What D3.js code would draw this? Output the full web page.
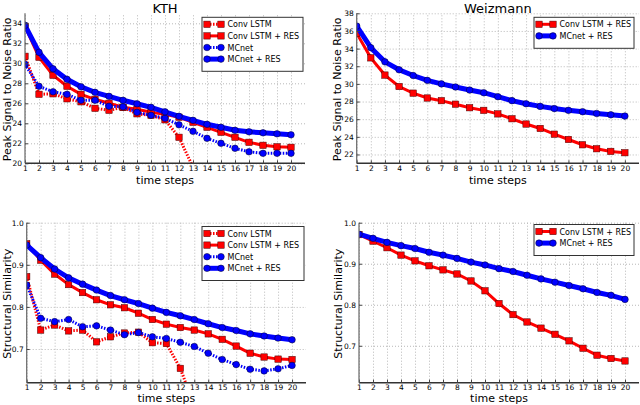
<!DOCTYPE html>
<html>
<head>
<meta charset="utf-8">
<script src="https://cdn.jsdelivr.net/npm/d3@7"></script>
<style>
body { margin: 0; background: #fff; }
svg { display: block; }
text { font-family: "DejaVu Sans", sans-serif; fill: #000; }
</style>
</head>
<body>
<svg id="chart" width="640" height="405"></svg>
<script>
// time steps on the x axis
let steps = [1, 2, 3, 4, 5, 6, 7, 8, 9, 10, 11, 12, 13, 14, 15, 16, 17, 18, 19, 20]

// KTH - PSNR
let kthPsnrConv = [30.7, 26.9, 26.95, 26.45, 26.15, 25.5, 25.3, 25.6, 24.95, 24.8, 24.35, 22.6, 19.6]
let kthPsnrConvRes = [33.7, 30.6, 28.8, 27.7, 26.9, 26.4, 26.0, 25.6, 25.4, 25.1, 24.9, 24.6, 24.1, 23.6, 23.1, 22.6, 22.1, 21.8, 21.65, 21.6]
let kthPsnrMc = [29.9, 27.7, 27.15, 26.9, 26.3, 26.3, 25.7, 25.65, 25.1, 24.8, 24.5, 23.85, 23.2, 22.5, 22.0, 21.5, 21.15, 21.0, 21.0, 21.0]
let kthPsnrMcRes = [33.8, 31.1, 29.45, 28.4, 27.65, 27.1, 26.7, 26.3, 25.95, 25.6, 25.15, 24.7, 24.3, 23.9, 23.6, 23.3, 23.15, 23.05, 22.95, 22.85]

// Weizmann - PSNR
let weizPsnrConvRes = [35.75, 32.95, 31.0, 29.7, 28.95, 28.4, 28.1, 27.7, 27.3, 27.0, 26.6, 26.05, 25.45, 24.95, 24.3, 23.7, 23.1, 22.65, 22.35, 22.2]
let weizPsnrMcRes = [36.55, 34.1, 32.5, 31.6, 30.95, 30.4, 30.0, 29.65, 29.3, 29.0, 28.55, 28.1, 27.75, 27.45, 27.2, 27.0, 26.85, 26.65, 26.5, 26.35]

// KTH - SSIM
let kthSsimConv = [0.872, 0.745, 0.757, 0.743, 0.745, 0.717, 0.729, 0.738, 0.740, 0.715, 0.713, 0.654, 0.565]
let kthSsimConvRes = [0.950, 0.911, 0.878, 0.853, 0.834, 0.817, 0.805, 0.798, 0.785, 0.770, 0.759, 0.751, 0.745, 0.736, 0.723, 0.707, 0.690, 0.681, 0.676, 0.675]
let kthSsimMc = [0.852, 0.773, 0.765, 0.770, 0.753, 0.755, 0.745, 0.734, 0.739, 0.729, 0.725, 0.716, 0.706, 0.690, 0.675, 0.663, 0.652, 0.648, 0.653, 0.661]
let kthSsimMcRes = [0.947, 0.917, 0.890, 0.869, 0.854, 0.840, 0.827, 0.817, 0.808, 0.797, 0.787, 0.779, 0.770, 0.760, 0.751, 0.744, 0.736, 0.731, 0.726, 0.722]

// Weizmann - SSIM
let weizSsimConvRes = [0.971, 0.955, 0.939, 0.921, 0.907, 0.895, 0.885, 0.875, 0.858, 0.834, 0.803, 0.776, 0.758, 0.743, 0.728, 0.712, 0.694, 0.677, 0.669, 0.663]
let weizSsimMcRes = [0.972, 0.962, 0.952, 0.944, 0.937, 0.928, 0.921, 0.913, 0.904, 0.897, 0.888, 0.881, 0.872, 0.863, 0.855, 0.847, 0.839, 0.830, 0.823, 0.813]

// tick values
let psnrTicksKth = [20, 22, 24, 26, 28, 30, 32, 34]
let psnrTicksWeiz = [22, 24, 26, 28, 30, 32, 34, 36, 38]
let ssimTicks = [0.7, 0.8, 0.9, 1.0]

let seriesNames = ["Conv LSTM", "Conv LSTM + RES", "MCnet", "MCnet + RES"]

// line styles per series name
let styles = {
    "Conv LSTM": { color: "#ff0000", width: 3, dash: "1.5,1.5", marker: "square" },
    "Conv LSTM + RES": { color: "#ff0000", width: 3, dash: null, marker: "square" },
    "MCnet": { color: "#0000ff", width: 3, dash: "1.5,1.5", marker: "circle" },
    "MCnet + RES": { color: "#0000ff", width: 5, dash: null, marker: "circle" }
}

let svg = d3.select("#chart")

function drawPanel(p, idx) {
    let x = d3.scaleLinear().domain([1, 21]).range([p.left, p.right])
    let y = d3.scaleLinear().domain(p.yDomain).range([p.bottom, p.top])
    let g = svg.append("g")

    let clipId = "clip" + idx
    svg.append("clipPath").attr("id", clipId)
        .append("rect")
        .attr("x", p.left).attr("y", p.top)
        .attr("width", p.right - p.left).attr("height", p.bottom - p.top)

    // dotted grid
    g.append("g")
        .attr("transform", `translate(0,${p.bottom})`)
        .call(d3.axisBottom(x).tickValues(steps).tickSize(-(p.bottom - p.top)).tickFormat(""))
        .call(a => a.select(".domain").remove())
        .selectAll("line").attr("stroke", "#b8b8b8").attr("stroke-dasharray", "1,2")
    g.append("g")
        .attr("transform", `translate(${p.left},0)`)
        .call(d3.axisLeft(y).tickValues(p.yTicks).tickSize(-(p.right - p.left)).tickFormat(""))
        .call(a => a.select(".domain").remove())
        .selectAll("line").attr("stroke", "#b8b8b8").attr("stroke-dasharray", "1,2")

    // series
    let plot = g.append("g").attr("clip-path", `url(#${clipId})`)
    p.series.forEach(s => {
        let st = styles[s.name]
        let pts = s.values.map((v, i) => [steps[i], v])
        let line = d3.line().x(d => x(d[0])).y(d => y(d[1]))
        plot.append("path")
            .attr("d", line(pts))
            .attr("fill", "none")
            .attr("stroke", st.color)
            .attr("stroke-width", st.width)
            .attr("stroke-dasharray", st.dash)
        drawMarkers(plot, pts.map(d => [x(d[0]), y(d[1])]), st)
    })

    // axes
    let axisX = d3.axisBottom(x).tickValues(steps).tickSize(-3).tickPadding(2)
    let gx = g.append("g").attr("transform", `translate(0,${p.bottom})`).call(axisX)
    gx.select(".domain").attr("stroke", "#333").attr("stroke-width", 1.6)
        .attr("d", `M${p.left},0H${p.right}`)
    gx.selectAll("text").attr("font-size", 7.5).attr("font-family", "DejaVu Sans").attr("fill", "#222")
    gx.selectAll(".tick line").attr("stroke", "#444")

    let axisY = d3.axisLeft(y).tickValues(p.yTicks).tickSize(-3).tickPadding(3)
        .tickFormat(p.yFormat)
    let gy = g.append("g").attr("transform", `translate(${p.left},0)`).call(axisY)
    gy.select(".domain").attr("stroke", "#666").attr("stroke-width", 1.2)
        .attr("d", `M0,${p.top}V${p.bottom}`)
    gy.selectAll("text").attr("font-size", 7.5).attr("font-family", "DejaVu Sans").attr("fill", "#222")
    gy.selectAll(".tick line").attr("stroke", "#444")

    // labels
    if (p.title) {
        g.append("text").attr("x", (p.left + p.right) / 2).attr("y", 12.5)
            .attr("text-anchor", "middle").attr("font-size", 13).text(p.title)
    }
    g.append("text").attr("x", (p.left + p.right) / 2).attr("y", p.xLabelY)
        .attr("text-anchor", "middle").attr("font-size", 11).text("time steps")
    g.append("text")
        .attr("transform", `translate(${p.yLabelX},${(p.top + p.bottom) / 2 + 1}) rotate(-90)`)
        .attr("text-anchor", "middle").attr("font-size", 11).text(p.yLabel)

    // legend
    let n = p.series.length
    let lg = g.append("g")
    lg.append("rect")
        .attr("x", p.legend.x).attr("y", p.legend.y)
        .attr("width", p.legend.w).attr("height", 8 + n * 11.5)
        .attr("fill", "#fff").attr("stroke", "#333").attr("stroke-width", 1)
    p.series.forEach((s, i) => {
        let st = styles[s.name]
        let cy = p.legend.y + 7 + i * 11.6
        let x0 = p.legend.x + 5, x1 = p.legend.x + 19
        lg.append("line").attr("x1", x0).attr("x2", x1).attr("y1", cy).attr("y2", cy)
            .attr("stroke", st.color).attr("stroke-width", st.width)
            .attr("stroke-dasharray", st.dash)
        drawMarkers(lg, [[x0, cy], [x1, cy]], st)
        lg.append("text").attr("x", p.legend.x + 25.5).attr("y", cy + 3)
            .attr("font-size", 8).text(s.name)
    })
}

function drawMarkers(sel, pts, st) {
    if (st.marker === "square") {
        sel.selectAll(null).data(pts).enter().append("rect")
            .attr("x", d => d[0] - 3.2).attr("y", d => d[1] - 3.2)
            .attr("width", 6.4).attr("height", 6.4)
            .attr("fill", st.color).attr("stroke", "#400").attr("stroke-width", 0.5)
    } else {
        sel.selectAll(null).data(pts).enter().append("circle")
            .attr("cx", d => d[0]).attr("cy", d => d[1]).attr("r", 3.3)
            .attr("fill", st.color).attr("stroke", "#002").attr("stroke-width", 0.5)
    }
}

let panels = [
    {
        title: "KTH", left: 25, right: 305, top: 13.3, bottom: 163.3, yDomain: [20, 35],
        yTicks: psnrTicksKth, yFormat: d3.format("d"), yLabel: "Peak Signal to Noise Ratio",
        yLabelX: 10.5, xLabelY: 184,
        legend: { x: 202, y: 17.3, w: 101 },
        series: [
            { name: seriesNames[0], values: kthPsnrConv },
            { name: seriesNames[1], values: kthPsnrConvRes },
            { name: seriesNames[2], values: kthPsnrMc },
            { name: seriesNames[3], values: kthPsnrMcRes }
        ]
    },
    {
        title: "Weizmann", left: 356.7, right: 639, top: 13.3, bottom: 163.3, yDomain: [21, 38],
        yTicks: psnrTicksWeiz, yFormat: d3.format("d"), yLabel: "Peak Signal to Noise Ratio",
        yLabelX: 341, xLabelY: 184,
        legend: { x: 534, y: 17.3, w: 100 },
        series: [
            { name: seriesNames[1], values: weizPsnrConvRes },
            { name: seriesNames[3], values: weizPsnrMcRes }
        ]
    },
    {
        title: null, left: 26.7, right: 306, top: 222.7, bottom: 382.7, yDomain: [0.62, 1.0],
        yTicks: ssimTicks, yFormat: d3.format(".1f"), yLabel: "Structural Similarity",
        yLabelX: 10.5, xLabelY: 402,
        legend: { x: 202, y: 226.5, w: 102 },
        series: [
            { name: seriesNames[0], values: kthSsimConv },
            { name: seriesNames[1], values: kthSsimConvRes },
            { name: seriesNames[2], values: kthSsimMc },
            { name: seriesNames[3], values: kthSsimMcRes }
        ]
    },
    {
        title: null, left: 359, right: 639, top: 222.7, bottom: 382.7, yDomain: [0.61, 1.0],
        yTicks: ssimTicks, yFormat: d3.format(".1f"), yLabel: "Structural Similarity",
        yLabelX: 341.5, xLabelY: 402,
        legend: { x: 534, y: 224.5, w: 100 },
        series: [
            { name: seriesNames[1], values: weizSsimConvRes },
            { name: seriesNames[3], values: weizSsimMcRes }
        ]
    }
]

panels.forEach((p, i) => drawPanel(p, i))
</script>
</body>
</html>
